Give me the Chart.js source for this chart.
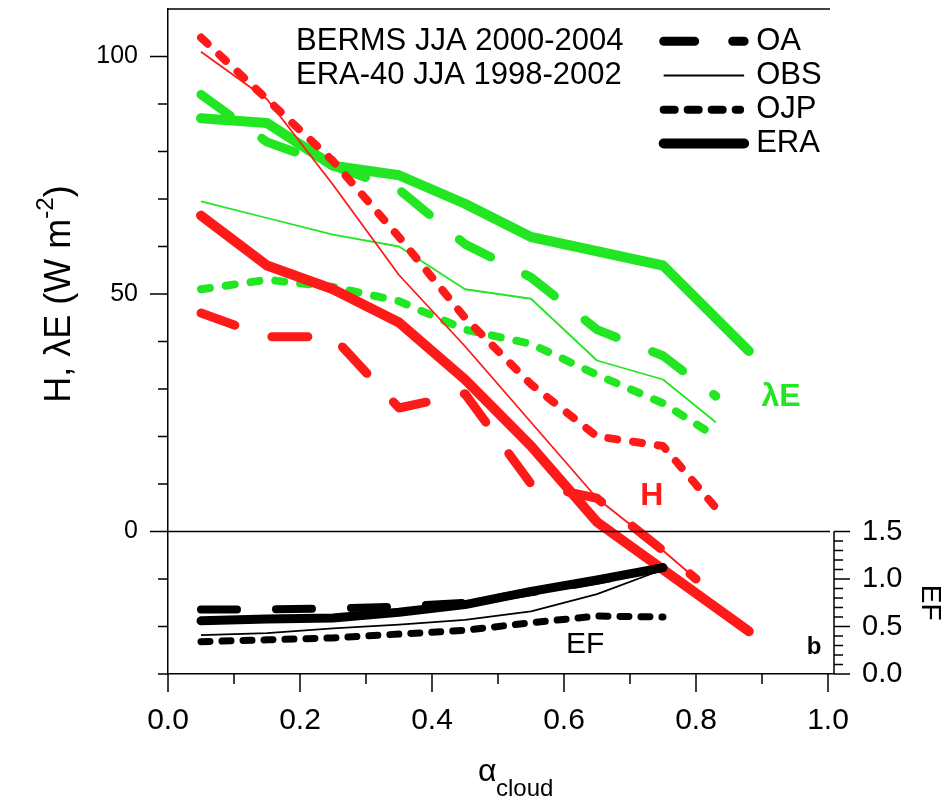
<!DOCTYPE html>
<html lang="en">
<head>
<meta charset="UTF-8">
<title>H, λE and EF against cloud albedo</title>
<script src="https://cdn.jsdelivr.net/npm/chart.js"></script>
<style>
  body { margin: 0; background: #fff; }
  #wrap { width: 952px; height: 806px; }
</style>
</head>
<body>
<div id="wrap"><canvas id="fluxChart" width="952" height="806"></canvas></div>
<script>
// cloud albedo bins
const binsERA  = [0.05, 0.15, 0.25, 0.35, 0.45, 0.55, 0.65, 0.75, 0.88];
const binsSite = [0.05, 0.15, 0.25, 0.35, 0.45, 0.55, 0.65, 0.75, 0.83];
const binsH80  = [0.05, 0.15, 0.25, 0.35, 0.45, 0.55, 0.65, 0.75, 0.80];
const binsEF   = [0.05, 0.15, 0.25, 0.35, 0.45, 0.55, 0.65, 0.75];

// latent heat flux, W m-2
const leERA = [87, 86, 77, 75, 69, 62, 59, 56, 38];
const leOA  = [92, 82, 77, 72, 60.5, 53.5, 42.5, 37, 28.5];
const leOBS = [69.5, 66, 62.5, 60, 51, 49, 36, 32, 23];
const leOJP = [51, 53, 51.5, 48.5, 42.5, 39.5, 33, 27, 20];

// sensible heat flux, W m-2
const hERA = [66.5, 56, 51, 44, 32, 18, 2, -8, -21];
const hOA  = [46, 41, 41, 26, 29, 10, 7, -4, -10];
const hOBS = [101, 91, 73, 54, 39, 23, 7, -4, -10];
const hOJP = [104, 91, 78, 62, 45, 31, 20, 18, 5];

// evaporative fraction
const efERA = [0.56, 0.58, 0.59, 0.65, 0.73, 0.87, 0.99, 1.12];
const efOA  = [0.68, 0.68, 0.69, 0.71, 0.75, 0.86, 0.98, 1.12];
const efOBS = [0.41, 0.43, 0.48, 0.52, 0.57, 0.66, 0.84, 1.10];
const efOJP = [0.34, 0.36, 0.38, 0.42, 0.46, 0.54, 0.61, 0.60];

// axis ticks
const xTicks  = [0, 0.1, 0.2, 0.3, 0.4, 0.5, 0.6, 0.7, 0.8, 0.9, 1.0];
const yTicks  = [-30, -20, -10, 0, 10, 20, 30, 40, 50, 60, 70, 80, 90, 100];
const efTicks = [0, 0.1, 0.2, 0.3, 0.4, 0.5, 0.6, 0.7, 0.8, 0.9, 1.0, 1.1, 1.2, 1.3, 1.4, 1.5];

const RED = '#ff1a1a';
const GREEN = '#22e622';
const FONT = '"Liberation Sans", Arial, Helvetica, sans-serif';

// dash lengths allow for the round caps
const styles = {
    ERA: { borderWidth: 10, borderDash: [] },
    OA:  { borderWidth: 9, borderDash: [36, 39] },
    OBS: { borderWidth: 1.8, borderDash: [] },
    OJP: { borderWidth: 8, borderDash: [9, 16] }
};

function pts(xs, ys) {
    return xs.map((v, i) => ({ x: v, y: ys[i] }));
}

function line(label, xs, ys, color, site, axis, order) {
    return {
        label: label,
        data: pts(xs, ys),
        borderColor: color,
        borderWidth: styles[site].borderWidth,
        borderDash: styles[site].borderDash,
        borderJoinStyle: 'round',
        borderCapStyle: site === 'OBS' ? 'butt' : 'round',
        pointRadius: 0,
        tension: 0,
        yAxisID: axis,
        order: order
    };
}

const datasets = [
    line('EF OA', binsEF, efOA, '#000', 'OA', 'y2', 0),
    line('EF ERA', binsEF, efERA, '#000', 'ERA', 'y2', 0),
    line('EF OBS', binsEF, efOBS, '#000', 'OBS', 'y2', 0),
    line('EF OJP', binsEF, efOJP, '#000', 'OJP', 'y2', 0),
    line('H OBS', binsH80, hOBS, RED, 'OBS', 'y', 1),
    line('H OJP', binsSite, hOJP, RED, 'OJP', 'y', 1),
    line('H OA', binsH80, hOA, RED, 'OA', 'y', 1),
    line('H ERA', binsERA, hERA, RED, 'ERA', 'y', 1),
    line('LE OBS', binsSite, leOBS, GREEN, 'OBS', 'y', 2),
    line('LE OJP', binsSite, leOJP, GREEN, 'OJP', 'y', 2),
    line('LE OA', binsSite, leOA, GREEN, 'OA', 'y', 2),
    line('LE ERA', binsERA, leERA, GREEN, 'ERA', 'y', 2)
];

// the EF curves are a little thinner, and the OJP one has tighter dashes
datasets.slice(0, 4).forEach(d => { if (d.borderWidth > 2) d.borderWidth -= 1; });
datasets[3].borderDash = [9, 12];

function setTicks(list) {
    return scale => { scale.ticks = list.map(v => ({ value: v })); };
}

// fixed axis sizes so the plot box lands where the original one is
function fixSize(w, h) {
    return s => {
        if (w) s.width = w;
        if (h) s.height = h;
        s.paddingTop = 0; s.paddingBottom = 0;
        s.paddingLeft = 0; s.paddingRight = 0;
    };
}

// frame, tick marks, legend and labels
const decor = {
    id: 'decor',
    afterDatasetsDraw(chart) {
        const { ctx, chartArea: ca, scales } = chart;
        const x = scales.x, y = scales.y, y2 = scales.y2;
        const xEnd = x.getPixelForValue(1.0) + 2;
        const y0 = y.getPixelForValue(0);

        ctx.save();
        ctx.strokeStyle = '#000';
        ctx.lineWidth = 1.5;
        ctx.beginPath();
        ctx.moveTo(ca.left, ca.top); ctx.lineTo(xEnd, ca.top);
        ctx.moveTo(ca.left, y0); ctx.lineTo(xEnd, y0);
        ctx.moveTo(ca.right, y2.getPixelForValue(0)); ctx.lineTo(ca.right, y2.getPixelForValue(1.5));
        x.ticks.forEach(t => {
            const px = x.getPixelForValue(t.value);
            const len = Math.round(t.value * 10) % 2 ? 10 : 18;
            ctx.moveTo(px, ca.bottom); ctx.lineTo(px, ca.bottom + len);
        });
        y.ticks.forEach(t => {
            const py = y.getPixelForValue(t.value);
            const len = t.value % 50 ? 10 : 18;
            ctx.moveTo(ca.left, py); ctx.lineTo(ca.left - len, py);
        });
        y2.ticks.forEach(t => {
            const py = y2.getPixelForValue(t.value);
            const len = Math.round(t.value * 10) % 5 ? 9 : 16;
            ctx.moveTo(ca.right, py); ctx.lineTo(ca.right + len, py);
        });
        ctx.stroke();

        // header text
        ctx.fillStyle = '#000';
        ctx.textBaseline = 'middle';
        ctx.textAlign = 'left';
        ctx.font = '31px ' + FONT;
        ctx.fillText('BERMS JJA 2000-2004', x.getPixelForValue(0.194), y.getPixelForValue(103.2));
        ctx.fillText('ERA-40 JJA 1998-2002', x.getPixelForValue(0.194), y.getPixelForValue(96));

        // legend
        const lx1 = x.getPixelForValue(0.745), lx2 = x.getPixelForValue(0.879);
        const rows = [['OA', 103.2], ['OBS', 96], ['OJP', 88.8], ['ERA', 81.7]];
        rows.forEach(([name, v]) => {
            const py = y.getPixelForValue(v);
            const st = styles[name];
            ctx.beginPath();
            ctx.lineWidth = st.borderWidth;
            ctx.lineCap = name === 'OBS' ? 'butt' : 'round';
            ctx.setLineDash(name === 'OA' ? [31, 38] : name === 'OJP' ? [11, 13] : []);
            ctx.moveTo(lx1 + 4, py); ctx.lineTo(name === 'OJP' ? lx2 - 8 : lx2 - 4, py);
            ctx.stroke();
            ctx.setLineDash([]);
            ctx.fillText(name, lx2 + 8, py);
        });

        // series labels
        ctx.font = 'bold 32px ' + FONT;
        ctx.textAlign = 'center';
        ctx.fillStyle = GREEN;
        ctx.fillText('λE', x.getPixelForValue(0.929), y.getPixelForValue(28.2));
        ctx.fillStyle = RED;
        ctx.fillText('H', x.getPixelForValue(0.733), y.getPixelForValue(7.4));
        ctx.fillStyle = '#000';
        ctx.font = '30px ' + FONT;
        ctx.fillText('EF', x.getPixelForValue(0.632), y.getPixelForValue(-23.8));
        ctx.font = 'bold 24px ' + FONT;
        ctx.fillText('b', x.getPixelForValue(0.979), y.getPixelForValue(-24.4));

        // y axis title with superscript
        ctx.save();
        ctx.translate(60, y.getPixelForValue(50));
        ctx.rotate(-Math.PI / 2);
        const big = '36px ' + FONT, small = '24px ' + FONT;
        ctx.font = big;
        const w1 = ctx.measureText('H, λE (W m').width;
        ctx.font = small;
        const w2 = ctx.measureText('-2').width;
        ctx.font = big;
        const w3 = ctx.measureText(')').width;
        const cx = -(w1 + w2 + w3) / 2;
        ctx.textAlign = 'left';
        ctx.fillText('H, λE (W m', cx, 0);
        ctx.font = small;
        ctx.fillText('-2', cx + w1, -14);
        ctx.font = big;
        ctx.fillText(')', cx + w1 + w2, 0);
        ctx.restore();

        // x axis title with subscript
        ctx.font = '32px ' + FONT;
        ctx.textAlign = 'left';
        ctx.fillText('α', 478, 772);
        ctx.font = '24px ' + FONT;
        ctx.fillText('cloud', 496, 789);

        // right axis title
        ctx.save();
        ctx.translate(930, y2.getPixelForValue(0.75));
        ctx.rotate(Math.PI / 2);
        ctx.font = '28px ' + FONT;
        ctx.textAlign = 'center';
        ctx.fillText('EF', 0, 0);
        ctx.restore();

        ctx.restore();
    }
};

const hidden = { display: true, drawOnChartArea: false, drawTicks: true, color: 'rgba(0,0,0,0)', tickColor: 'rgba(0,0,0,0)' };

new Chart(document.getElementById('fluxChart'), {
    type: 'line',
    data: { datasets: datasets },
    options: {
        responsive: false,
        animation: false,
        events: [],
        layout: { padding: { top: 9, left: 0, right: 0, bottom: 0 } },
        plugins: { legend: { display: false }, tooltip: { enabled: false } },
        scales: {
            x: {
                type: 'linear',
                min: 0,
                max: 1.0091,
                afterBuildTicks: setTicks(xTicks),
                afterFit: fixSize(0, 132),
                grid: Object.assign({}, hidden, { tickLength: 18 }),
                border: { display: true, color: '#000', width: 1.5 },
                ticks: {
                    autoSkip: false,
                    maxRotation: 0,
                    padding: 11,
                    color: '#000',
                    font: { family: FONT, size: 30 },
                    callback: v => (Math.round(v * 10) % 2 === 0 ? v.toFixed(1) : '')
                }
            },
            y: {
                position: 'left',
                min: -30,
                max: 110,
                afterBuildTicks: setTicks(yTicks),
                afterFit: fixSize(168, 0),
                grid: Object.assign({}, hidden, { tickLength: 18 }),
                border: { display: true, color: '#000', width: 1.5 },
                ticks: {
                    autoSkip: false,
                    padding: 12,
                    color: '#000',
                    font: { family: FONT, size: 25 },
                    callback: v => (v % 50 === 0 ? String(v) : '')
                }
            },
            y2: {
                position: 'right',
                min: 0,
                max: 7.0,
                afterBuildTicks: setTicks(efTicks),
                afterFit: fixSize(118, 0),
                grid: Object.assign({}, hidden, { tickLength: 16 }),
                border: { display: false },
                ticks: {
                    autoSkip: false,
                    padding: 12,
                    color: '#000',
                    font: { family: FONT, size: 29 },
                    callback: v => (Math.round(v * 10) % 5 === 0 ? v.toFixed(1) : '')
                }
            }
        }
    },
    plugins: [decor]
});
</script>
</body>
</html>
